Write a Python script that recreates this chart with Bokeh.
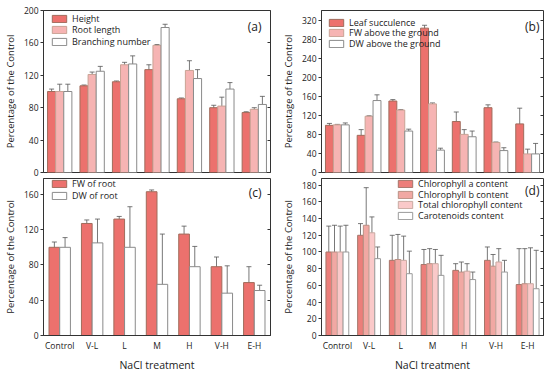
from bokeh.plotting import figure
from bokeh.models import (ColumnDataSource, FactorRange, Range1d, Whisker, TeeHead,
                          LinearAxis, Label, Legend, LegendItem, FixedTicker)
from bokeh.transform import dodge
from bokeh.layouts import column, row
from bokeh.embed import file_html
from bokeh.resources import INLINE

FONT = "Open Sans"

cats = ["Control", "V-L", "L", "M", "H", "V-H", "E-H"]

# Panel (a)
a_height = [100, 107, 112, 127, 91, 80, 74]
a_height_err = [3, 1, 1, 6, 1, 3, 1]
a_root = [100, 121, 133, 157, 126, 82, 78]
a_root_err = [9, 3, 3, 1, 12, 11, 2]
a_branch = [100, 125, 134, 179, 116, 103, 84]
a_branch_err = [9, 6, 10, 4, 11, 8, 10]

# Panel (b)
b_succ = [99, 78, 150, 303, 107, 136, 102]
b_succ_err = [4, 12, 3, 6, 20, 6, 33]
b_fw = [100, 118, 131, 144, 80, 63, 39]
b_fw_err = [1, 1, 1, 2, 10, 1, 10]
b_dw = [100, 151, 87, 47, 75, 46, 39]
b_dw_err = [4, 12, 4, 4, 12, 6, 22]

# Panel (c)
c_fw = [100, 127, 132, 163, 115, 78, 60]
c_fw_err = [6, 4, 3, 2, 9, 11, 18]
c_dw = [100, 105, 100, 58, 78, 48, 51]
c_dw_err = [11, 27, 46, 57, 23, 31, 6]

# Panel (d)
d_chla = [100, 120, 90, 85, 78, 90, 61]
d_chla_err = [31, 14, 30, 18, 8, 16, 43]
d_chlb = [100, 132, 91, 86, 76, 83, 62]
d_chlb_err = [32, 45, 30, 18, 12, 14, 42]
d_total = [100, 123, 90, 86, 77, 88, 62]
d_total_err = [31, 19, 29, 17, 9, 16, 43]
d_car = [100, 92, 74, 72, 67, 76, 56]
d_car_err = [32, 14, 27, 24, 9, 14, 46]

TICK_FS = "8.5px"
FRAME_W = 231
ITEM_H = 13


def make_fig(width, height, ymax, ticks, bl, br, bt, bb, show_x):
    p = figure(width=width, height=height,
               x_range=FactorRange(factors=cats, range_padding=0),
               y_range=Range1d(0, ymax),
               output_backend="svg", toolbar_location=None,
               min_border_left=bl, min_border_right=br,
               min_border_top=bt, min_border_bottom=bb)
    p.xgrid.visible = False
    p.ygrid.visible = False
    p.outline_line_color = "#333333"
    p.outline_line_width = 1
    p.background_fill_color = "white"
    p.border_fill_color = "white"
    ya = p.yaxis[0]
    ya.ticker = FixedTicker(ticks=ticks)
    ya.minor_tick_line_color = None
    ya.major_tick_out = 3
    ya.major_tick_in = 0
    ya.major_label_standoff = 2
    ya.major_label_text_font = FONT
    ya.major_label_text_font_size = TICK_FS
    ya.major_label_text_color = "#222222"
    ya.axis_line_color = "#333333"
    ya.major_tick_line_color = "#333333"
    ya.axis_label = "Percentage of the Control"
    ya.axis_label_text_font = FONT
    ya.axis_label_text_font_size = "9.5px"
    ya.axis_label_text_font_style = "normal"
    ya.axis_label_text_color = "#222222"
    ya.axis_label_standoff = 4
    ra = LinearAxis(ticker=FixedTicker(ticks=ticks), major_tick_in=3, major_tick_out=0,
                    major_label_overrides={t: "" for t in ticks}, major_label_standoff=0,
                    minor_tick_line_color=None, axis_line_color=None,
                    major_tick_line_color="#333333")
    p.add_layout(ra, "right")
    xa = p.xaxis[0]
    if show_x:
        xa.major_tick_out = 0
        xa.major_tick_in = 0
        xa.major_label_standoff = 4
        xa.major_label_text_font = FONT
        xa.major_label_text_font_size = TICK_FS
        xa.major_label_text_color = "#222222"
        xa.axis_line_color = "#333333"
        xa.axis_label = "NaCl treatment"
        xa.axis_label_text_font = FONT
        xa.axis_label_text_font_size = "10.5px"
        xa.axis_label_text_font_style = "normal"
        xa.axis_label_text_color = "#222222"
        xa.axis_label_standoff = 4
    else:
        xa.visible = False
    return p


def add_series(p, frame_h, series, width, offsets, leg_x, leg_rows, panel_label, label_dy):
    for (name, vals, errs, fill, line), off, ry in zip(series, offsets, leg_rows):
        src = ColumnDataSource(dict(cat=cats, v=vals,
                                    up=[a + b for a, b in zip(vals, errs)],
                                    lo=[a - b for a, b in zip(vals, errs)]))
        r = p.vbar(x=dodge("cat", off, range=p.x_range), top="v", width=width,
                   source=src, fill_color=fill, line_color=line, line_width=1)
        w = Whisker(source=src, base=dodge("cat", off, range=p.x_range),
                    upper="up", lower="lo", line_color="#555555", line_width=0.8,
                    upper_head=TeeHead(size=5, line_color="#555555", line_width=0.8),
                    lower_head=TeeHead(size=5, line_color="#555555", line_width=0.8))
        p.add_layout(w)
        leg = Legend(items=[LegendItem(label=name, renderers=[r])],
                     location=(leg_x, frame_h - ry - ITEM_H / 2),
                     background_fill_alpha=0, border_line_color=None,
                     padding=0, margin=0, spacing=0,
                     glyph_width=18, glyph_height=9, label_height=9,
                     label_standoff=4, label_text_font=FONT,
                     label_text_font_size="9px", label_text_color="#222222")
        p.add_layout(leg)
    p.add_layout(Label(x=FRAME_W - 13, y=frame_h - label_dy, x_units="screen", y_units="screen",
                       text=panel_label, text_font=FONT, text_font_size="12px",
                       text_align="right", text_baseline="middle", text_color="#222222"))


C1_FILL, C1_LINE = "#EC716D", "#A06C5C"
C2_FILL, C2_LINE = "#F6B4B3", "#C9A395"
C3_FILL, C3_LINE = "#FFFFFF", "#8A8A8A"

TOP_H = 162
BOT_H = 160

# ---- Panel a
fa = make_fig(278, 178, 200, [0, 40, 80, 120, 160, 200], 39, 8, 10, 6, False)
add_series(fa, TOP_H, [("Height", a_height, a_height_err, C1_FILL, C1_LINE),
                       ("Root length", a_root, a_root_err, C2_FILL, C2_LINE),
                       ("Branching number", a_branch, a_branch_err, C3_FILL, C3_LINE)],
           0.25, [-0.25, 0, 0.25], 7, [8, 19, 31], "(a)", 16)

# ---- Panel b
fb = make_fig(269, 178, 340, [0, 40, 80, 120, 160, 200, 240, 280, 320], 34, 4, 10, 6, False)
add_series(fb, TOP_H, [("Leaf succulence", b_succ, b_succ_err, C1_FILL, C1_LINE),
                       ("FW above the ground", b_fw, b_fw_err, C2_FILL, C2_LINE),
                       ("DW above the ground", b_dw, b_dw_err, C3_FILL, C3_LINE)],
           0.25, [-0.25, 0, 0.25], 6, [12, 22.5, 33], "(b)", 16)

# ---- Panel c
fc = make_fig(278, 196, 178, [0, 40, 80, 120, 160], 39, 8, 0, 36, True)
add_series(fc, BOT_H, [("FW of root", c_fw, c_fw_err, C1_FILL, C1_LINE),
                       ("DW of root", c_dw, c_dw_err, C3_FILL, C3_LINE)],
           0.33, [-0.165, 0.165], 7, [8.5, 20.5], "(c)", 17)

# ---- Panel d
fd = make_fig(269, 196, 188, list(range(0, 181, 20)), 34, 4, 0, 36, True)
add_series(fd, BOT_H, [("Chlorophyll a content", d_chla, d_chla_err, "#EC7E7A", "#A5766A"),
                       ("Chlorophyll b content", d_chlb, d_chlb_err, "#F1A8A3", "#B99185"),
                       ("Total chlorophyll content", d_total, d_total_err, "#FAC9C9", "#C8AAA2"),
                       ("Carotenoids content", d_car, d_car_err, "#FFFFFF", "#9A9A9A")],
           0.18, [-0.27, -0.09, 0.09, 0.27], 75, [8.5, 19.2, 29.8, 40.6], "(d)", 15)

layout = column(row(fa, fb), row(fc, fd))
open("out.html", "w").write(file_html(layout, INLINE))
